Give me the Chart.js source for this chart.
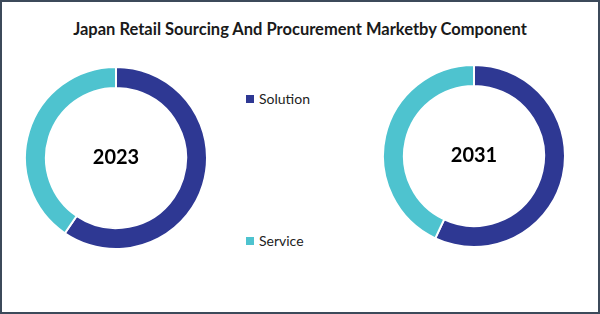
<!DOCTYPE html>
<html>
<head>
<meta charset="utf-8">
<script src="https://cdn.jsdelivr.net/npm/chart.js@4.4.0/dist/chart.umd.min.js"></script>
<style>
    html, body { margin: 0; padding: 0; background: #fff; }
    .frame {
        position: relative;
        width: 600px;
        height: 314px;
        box-sizing: border-box;
        border: 2px solid #3c4a5a;
        background: #fff;
        font-family: Lato, 'Noto Sans', sans-serif;
    }
    .title {
        position: absolute;
        left: 0; right: 0; top: 17px;
        text-align: center;
        font-weight: bold;
        font-size: 16.5px;
        color: #1a1a1a;
    }
    .chart-box { position: absolute; width: 184px; height: 184px; }
    .legend-item {
        position: absolute;
        left: 244px;
        font-size: 14px;
        color: #222;
        line-height: 16px;
    }
    .legend-item span {
        display: inline-block;
        width: 8px; height: 8px;
        margin-right: 5px;
        vertical-align: 1px;
    }
</style>
</head>
<body>
<div class="frame">
    <div class="title" id="title"></div>
    <div class="chart-box" style="left: 22px; top: 64px;"><canvas id="chart2023"></canvas></div>
    <div class="chart-box" style="left: 380px; top: 62px;"><canvas id="chart2031"></canvas></div>
    <div id="legend"></div>
</div>
<script>
    // Chart data
    const chartTitle = 'Japan Retail Sourcing And Procurement Marketby Component';
    const categories = ['Solution', 'Service'];
    const years = ['2023', '2031'];
    const values2023 = [59.5, 40.5];
    const values2031 = [57, 43];
    const colors = ['#2e3893', '#4ec3cf'];

    document.getElementById('title').textContent = chartTitle;

    // Legend (middle column)
    const legend = document.getElementById('legend');
    const legendTops = [89, 231];
    categories.forEach((name, i) => {
        const item = document.createElement('div');
        item.className = 'legend-item';
        item.style.top = legendTops[i] + 'px';
        item.innerHTML = `<span style="background:${colors[i]}"></span>${name}`;
        legend.appendChild(item);
    });

    // Draws the year in the hole of the donut
    const centerLabel = {
        id: 'centerLabel',
        afterDraw(chart, args, opts) {
            const meta = chart.getDatasetMeta(0);
            if (!meta.data.length) return;
            const arc = meta.data[0];
            const ctx = chart.ctx;
            ctx.save();
            ctx.font = 'bold 20px Lato, "Noto Sans", sans-serif';
            ctx.fillStyle = '#000';
            ctx.textAlign = 'center';
            ctx.textBaseline = 'middle';
            ctx.fillText(opts.text, arc.x, arc.y);
            ctx.restore();
        }
    };

    function makeDonut(id, year, values) {
        new Chart(document.getElementById(id), {
            type: 'doughnut',
            data: {
                labels: categories,
                datasets: [{
                    data: values,
                    backgroundColor: colors,
                    borderColor: '#ffffff',
                    borderWidth: 2
                }]
            },
            options: {
                responsive: true,
                maintainAspectRatio: false,
                animation: false,
                cutout: '77%',
                layout: { padding: 0 },
                plugins: {
                    legend: { display: false },
                    tooltip: { enabled: false },
                    centerLabel: { text: year }
                }
            },
            plugins: [centerLabel]
        });
    }

    makeDonut('chart2023', years[0], values2023);
    makeDonut('chart2031', years[1], values2031);
</script>
</body>
</html>
